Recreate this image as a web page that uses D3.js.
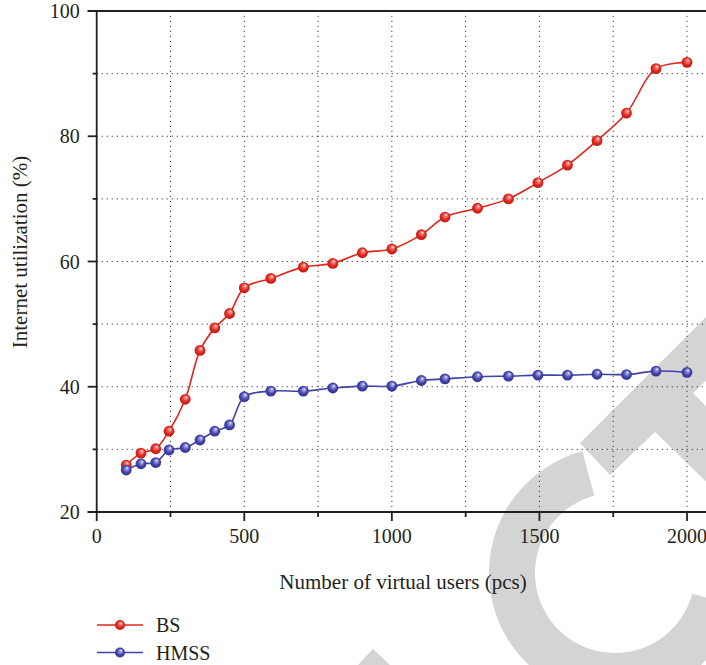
<!DOCTYPE html>
<html>
<head>
<meta charset="utf-8">
<script src="https://cdn.jsdelivr.net/npm/d3@7"></script>
<style>
  html, body { margin: 0; padding: 0; background: #fff; }
  svg { display: block; }
  text { font-family: "Liberation Serif", "DejaVu Serif", serif; fill: #231f20; }
</style>
</head>
<body>
<svg id="chart" width="706" height="665"></svg>
<script>
// Number of virtual users (pcs)
const users = [100, 150, 200, 245, 300, 350, 400, 450, 500, 590, 700, 800, 900, 1000,
               1100, 1180, 1290, 1395, 1495, 1595, 1695, 1795, 1895, 2000];
// Internet utilization (%)
const bsValues = [27.5, 29.4, 30.1, 32.9, 38.0, 45.8, 49.4, 51.7, 55.8, 57.3, 59.1, 59.7,
                  61.4, 62.0, 64.3, 67.1, 68.5, 70.0, 72.6, 75.4, 79.3, 83.7, 90.8, 91.8];
const hmssValues = [26.7, 27.7, 27.9, 29.9, 30.3, 31.5, 32.9, 33.9, 38.4, 39.3, 39.3, 39.8,
                    40.1, 40.1, 41.0, 41.25, 41.6, 41.7, 41.85, 41.85, 42.0, 41.95, 42.5, 42.3];
const seriesNames = ["BS", "HMSS"];
const xTickLabels = [0, 500, 1000, 1500, 2000];
const yTickLabels = [20, 40, 60, 80, 100];

const svg = d3.select("#chart");
const x = d3.scaleLinear().domain([0, 2000]).range([96.7, 687]);
const y = d3.scaleLinear().domain([20, 100]).range([512, 11]);
const xEnd = 712;

// Light grey stamp behind the plot
const wm = svg.append("g").attr("fill", "#d4d4d4");
wm.append("path").attr("transform", "translate(615,573)")
  .attr("d", d3.arc()({innerRadius: 80, outerRadius: 126,
    startAngle: 105 * Math.PI / 180, endAngle: 345 * Math.PI / 180}));
wm.append("polygon").attr("points",
  "580,443 725,298 725,363 693,393 725,425 725,500 655,432 610,475");
wm.append("polygon").attr("points", "357,666 373,649 391,666");

// Dotted grid
const grid = svg.append("g").attr("stroke", "#3a3a3a").attr("stroke-width", 1)
  .attr("stroke-dasharray", "1.2,3.8");
grid.selectAll("line.gx").data(d3.range(250, 2001, 250)).join("line")
  .attr("x1", d => x(d)).attr("x2", d => x(d))
  .attr("y1", y(20)).attr("y2", y(100));
grid.selectAll("line.gy").data(d3.range(30, 100, 10)).join("line")
  .attr("x1", x(0)).attr("x2", xEnd)
  .attr("y1", d => y(d)).attr("y2", d => y(d));

// Axes
const axisColor = "#231f20";
const ax = svg.append("g").attr("stroke", axisColor).attr("stroke-width", 1.8);
ax.append("line").attr("x1", x(0)).attr("x2", x(0)).attr("y1", y(100)).attr("y2", y(20));
ax.append("line").attr("x1", x(0) - 9).attr("x2", xEnd).attr("y1", y(20)).attr("y2", y(20));
ax.append("line").attr("x1", x(0) - 9).attr("x2", xEnd).attr("y1", y(100)).attr("y2", y(100));
ax.selectAll("line.ty").data(d3.range(20, 101, 10)).join("line")
  .attr("x1", d => x(0) - (d % 20 === 0 ? 9 : 4)).attr("x2", x(0))
  .attr("y1", d => y(d)).attr("y2", d => y(d));
ax.selectAll("line.tx").data(d3.range(0, 2001, 250)).join("line")
  .attr("x1", d => x(d)).attr("x2", d => x(d))
  .attr("y1", y(20)).attr("y2", d => y(20) + (d % 500 === 0 ? 9 : 5));

svg.append("g").selectAll("text").data(yTickLabels).join("text")
  .attr("x", x(0) - 17).attr("y", d => y(d) + 7)
  .attr("text-anchor", "end").attr("font-size", 20).text(d => d);
svg.append("g").selectAll("text").data(xTickLabels).join("text")
  .attr("x", d => x(d)).attr("y", 543)
  .attr("text-anchor", "middle").attr("font-size", 20).text(d => d);

svg.append("text").attr("x", 403).attr("y", 589).attr("text-anchor", "middle")
  .attr("font-size", 21).text("Number of virtual users (pcs)");
svg.append("text").attr("transform", "translate(27,252) rotate(-90)")
  .attr("text-anchor", "middle").attr("font-size", 21).text("Internet utilization (%)");

// Sphere-shaded markers
const defs = svg.append("defs");
function sphere(id, hi, mid, edge) {
  const g = defs.append("radialGradient").attr("id", id)
    .attr("cx", "0.45").attr("cy", "0.5").attr("r", "0.6")
    .attr("fx", "0.62").attr("fy", "0.3");
  g.append("stop").attr("offset", "0").attr("stop-color", "#ffffff");
  g.append("stop").attr("offset", "0.18").attr("stop-color", hi);
  g.append("stop").attr("offset", "0.55").attr("stop-color", mid);
  g.append("stop").attr("offset", "1").attr("stop-color", edge);
}
sphere("gBS", "#f48a84", "#e3271f", "#b0150f");
sphere("gHMSS", "#9f9fe0", "#4545ad", "#2a2a82");

const series = [
  {name: seriesNames[0], values: bsValues, color: "#e0261d", grad: "gBS"},
  {name: seriesNames[1], values: hmssValues, color: "#4242a8", grad: "gHMSS"}
];
const line = d3.line().x(d => x(d[0])).y(d => y(d[1])).curve(d3.curveCatmullRom.alpha(0.5));

series.forEach(s => {
  const pts = users.map((u, i) => [u, s.values[i]]);
  svg.append("path").attr("d", line(pts)).attr("fill", "none")
    .attr("stroke", s.color).attr("stroke-width", 1.6);
});
series.forEach(s => {
  const pts = users.map((u, i) => [u, s.values[i]]);
  svg.append("g").selectAll("circle").data(pts).join("circle")
    .attr("cx", d => x(d[0])).attr("cy", d => y(d[1])).attr("r", 5.4)
    .attr("fill", `url(#${s.grad})`);
});

// Legend
const lg = svg.append("g");
series.forEach((s, i) => {
  const ly = 625 + i * 27.5;
  lg.append("line").attr("x1", 97).attr("x2", 143).attr("y1", ly).attr("y2", ly)
    .attr("stroke", s.color).attr("stroke-width", 1.6);
  lg.append("circle").attr("cx", 120).attr("cy", ly).attr("r", 5)
    .attr("fill", `url(#${s.grad})`);
  lg.append("text").attr("x", 156).attr("y", ly + 7).attr("font-size", 20).text(s.name);
});
</script>
</body>
</html>
